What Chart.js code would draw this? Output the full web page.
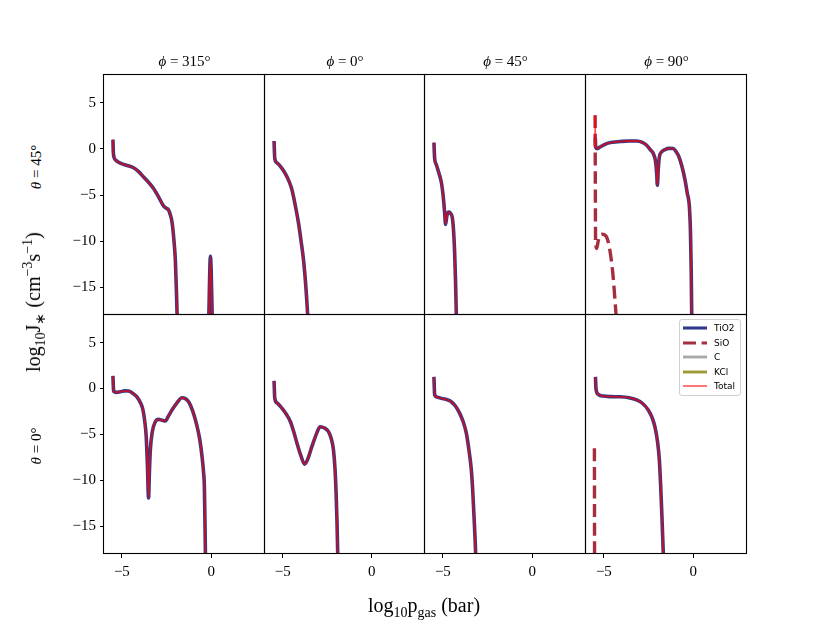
<!DOCTYPE html>
<html><head><meta charset="utf-8">
<script src="https://cdn.jsdelivr.net/npm/chart.js@4.4.0/dist/chart.umd.min.js"></script>
<style>
html,body{margin:0;padding:0;background:#fff}
body{width:830px;height:623px;overflow:hidden;position:relative;font-family:'Liberation Serif',serif;color:#000}
canvas{position:absolute}
.lbl{position:absolute;white-space:nowrap;transform:translate(-50%,-50%);line-height:1}
.rot{transform:translate(-50%,-50%) rotate(-90deg)}
sub,sup{font-size:70%;line-height:0}
#legend{position:absolute;left:679px;top:319px;width:62px;height:77px;border:1px solid #d0d0d0;border-radius:3px;background:rgba(255,255,255,0.85);font-family:'DejaVu Sans',sans-serif;font-size:9px;z-index:5;box-sizing:border-box}
#legend .row{position:absolute;left:0;height:14px;display:flex;align-items:center}
#legend svg{margin-left:3px;margin-right:7px}
</style></head>
<body>
<script>
// ---- axis / label data ----
const xTicks = [-5, 0];
const yTicks = [5, 0, -5, -10, -15];
const xRange = [-6, 3];
const yRange = [-18, 8];
const phiLabels = ['315', '0', '45', '90'];
const thetaLabels = ['45', '0'];
const seriesNames = ['TiO2', 'SiO', 'C', 'KCl', 'Total'];

// ---- series values: [log10 p_gas, log10 J*] ----
// theta = 45
const tio2_t45_p315 = [[-5.5,1.0],[-5.48,-0.3],[-5.45,-0.85],[-5.3,-1.3],[-5.09,-1.55],[-4.7,-1.8],[-4.35,-2.05],[-4.05,-2.5],[-3.79,-3.05],[-3.5,-3.65],[-3.23,-4.3],[-2.95,-5.2],[-2.7,-6.1],[-2.55,-6.4],[-2.4,-6.6],[-2.3,-7.1],[-2.2,-7.9],[-2.1,-9.7],[-2.01,-12.1],[-1.95,-15.5],[-1.9,-19],[-1.8,-30],[-0.3,-30],[-0.15,-19],[-0.05,-11.65],[0.06,-19],[0.2,-30]];
const tio2_t45_p0 = [[-5.49,0.85],[-5.47,-0.3],[-5.45,-1.06],[-5.3,-1.55],[-5.04,-2.14],[-4.85,-2.7],[-4.67,-3.41],[-4.52,-4.2],[-4.39,-5.22],[-4.25,-6.6],[-4.11,-8.1],[-3.97,-10.0],[-3.83,-12.1],[-3.7,-15.0],[-3.6,-18],[-3.55,-20]];
const tio2_t45_p45 = [[-5.5,0.68],[-5.48,-0.3],[-5.46,-1.06],[-5.37,-1.7],[-5.27,-2.33],[-5.09,-3.59],[-5.02,-4.5],[-4.96,-5.58],[-4.9,-7.0],[-4.85,-8.18],[-4.78,-7.3],[-4.72,-6.9],[-4.66,-6.85],[-4.57,-7.0],[-4.47,-7.5],[-4.4,-9.0],[-4.34,-11.4],[-4.29,-14.5],[-4.25,-18],[-4.22,-20]];
const tio2_t45_p90 = [[-5.48,1.2],[-5.46,0.3],[-5.42,0.05],[-5.35,0.05],[-5.22,0.2],[-4.85,0.57],[-4.5,0.72],[-4.1,0.79],[-3.6,0.85],[-3.17,0.85],[-2.85,0.7],[-2.61,0.39],[-2.4,-0.1],[-2.24,-0.51],[-2.12,-1.3],[-2.05,-2.6],[-2.01,-3.95],[-1.96,-2.2],[-1.9,-0.88],[-1.78,-0.35],[-1.58,-0.08],[-1.35,0.05],[-1.12,0.03],[-0.95,-0.35],[-0.84,-0.7],[-0.65,-1.8],[-0.46,-3.41],[-0.34,-4.8],[-0.22,-6.3],[-0.16,-9],[-0.12,-13],[-0.09,-18],[-0.07,-20]];
const sio_t45_p90 = [[-5.49,3.64],[-5.48,-3],[-5.465,-10.0],[-5.4,-10.8],[-5.33,-10.1],[-5.27,-9.6],[-5.1,-9.25],[-4.9,-9.4],[-4.7,-10.6],[-4.5,-13.5],[-4.33,-17.7],[-4.28,-19]];
const total_t45_p90 = [[-5.49,3.64],[-5.485,1.5],[-5.475,0.4],[-5.45,0.12],[-5.42,0.05],[-5.35,0.05],[-5.22,0.2],[-4.85,0.57],[-4.5,0.72],[-4.1,0.79],[-3.6,0.85],[-3.17,0.85],[-2.85,0.7],[-2.61,0.39],[-2.4,-0.1],[-2.24,-0.51],[-2.12,-1.3],[-2.05,-2.6],[-2.01,-3.95],[-1.96,-2.2],[-1.9,-0.88],[-1.78,-0.35],[-1.58,-0.08],[-1.35,0.05],[-1.12,0.03],[-0.95,-0.35],[-0.84,-0.7],[-0.65,-1.8],[-0.46,-3.41],[-0.34,-4.8],[-0.22,-6.3],[-0.16,-9],[-0.12,-13],[-0.09,-18],[-0.07,-20]];
// theta = 0
const tio2_t0_p315 = [[-5.5,1.38],[-5.48,0.3],[-5.46,-0.3],[-5.3,-0.42],[-5.09,-0.35],[-4.85,-0.25],[-4.63,-0.28],[-4.4,-0.5],[-4.16,-0.9],[-3.95,-1.6],[-3.82,-2.34],[-3.72,-3.6],[-3.64,-5.24],[-3.57,-8.5],[-3.51,-11.9],[-3.46,-9.0],[-3.41,-6.68],[-3.3,-4.7],[-3.13,-3.61],[-2.95,-3.35],[-2.75,-3.45],[-2.57,-3.53],[-2.4,-3.0],[-2.2,-2.34],[-1.9,-1.5],[-1.64,-1.0],[-1.45,-1.1],[-1.27,-1.44],[-1.05,-2.4],[-0.84,-3.78],[-0.65,-5.5],[-0.52,-7.4],[-0.44,-9],[-0.39,-10.66],[-0.36,-14],[-0.33,-18],[-0.31,-20]];
const tio2_t0_p0 = [[-5.49,0.84],[-5.47,-0.3],[-5.45,-1.07],[-5.3,-1.6],[-5.04,-2.16],[-4.8,-2.8],[-4.57,-3.61],[-4.4,-4.6],[-4.2,-5.95],[-4.0,-7.2],[-3.77,-8.23],[-3.6,-7.7],[-3.36,-6.3],[-3.1,-4.9],[-2.9,-4.15],[-2.65,-4.3],[-2.43,-4.68],[-2.28,-5.4],[-2.15,-6.66],[-2.06,-8.8],[-2.0,-11.4],[-1.95,-14.5],[-1.91,-17.9],[-1.89,-20]];
const tio2_t0_p45 = [[-5.5,1.27],[-5.48,0.1],[-5.46,-0.71],[-5.3,-0.95],[-5.09,-1.07],[-4.8,-1.2],[-4.53,-1.43],[-4.3,-1.9],[-4.06,-2.7],[-3.85,-3.7],[-3.69,-4.86],[-3.55,-6.6],[-3.41,-8.85],[-3.33,-11.2],[-3.26,-13.9],[-3.17,-17.9],[-3.14,-20]];
const tio2_t0_p90 = [[-5.47,1.27],[-5.45,0.2],[-5.41,-0.35],[-5.3,-0.65],[-5.04,-0.82],[-4.6,-0.88],[-4.1,-0.9],[-3.6,-1.0],[-3.17,-1.24],[-2.85,-1.6],[-2.52,-2.33],[-2.3,-3.2],[-2.15,-4.15],[-2.0,-5.8],[-1.9,-7.75],[-1.83,-10.4],[-1.77,-13.2],[-1.68,-17.9],[-1.65,-20]];
const sio_t0_p90 = [[-5.53,-6.5],[-5.52,-20]];
const empty = [];

// ---- layout ----
const colX = [104, 265, 425, 586, 747];
const rowY = [75, 315, 554];

const styles = {
  TiO2:  {color:'#2f3a8c', width:3.6, dash:[]},
  SiO:   {color:'#a62f3f', width:3.4, dash:[13,5.6]},
  C:     {color:'#aaaaaa', width:3.4, dash:[]},
  KCl:   {color:'#9c9a33', width:3.4, dash:[]},
  Total: {color:'rgba(255,0,0,0.7)', width:1.8, dash:[]}
};

const panels = [
  {r:0,c:0, s:{TiO2:tio2_t45_p315, SiO:empty, C:empty, KCl:empty, Total:tio2_t45_p315}},
  {r:0,c:1, s:{TiO2:tio2_t45_p0, SiO:empty, C:empty, KCl:empty, Total:tio2_t45_p0}},
  {r:0,c:2, s:{TiO2:tio2_t45_p45, SiO:empty, C:empty, KCl:empty, Total:tio2_t45_p45}},
  {r:0,c:3, s:{TiO2:tio2_t45_p90, SiO:sio_t45_p90, C:empty, KCl:empty, Total:total_t45_p90}},
  {r:1,c:0, s:{TiO2:tio2_t0_p315, SiO:empty, C:empty, KCl:empty, Total:tio2_t0_p315}},
  {r:1,c:1, s:{TiO2:tio2_t0_p0, SiO:empty, C:empty, KCl:empty, Total:tio2_t0_p0}},
  {r:1,c:2, s:{TiO2:tio2_t0_p45, SiO:empty, C:empty, KCl:empty, Total:tio2_t0_p45}},
  {r:1,c:3, s:{TiO2:tio2_t0_p90, SiO:sio_t0_p90, C:empty, KCl:empty, Total:tio2_t0_p90}}
];

const fmt = v => (v < 0 ? '\u2212' + Math.abs(v) : String(v));

const framePlugin = {
  id:'frame',
  afterDraw(chart){
    const a = chart.chartArea, ctx = chart.ctx;
    const L = Math.round(a.left)-0.5, R = Math.round(a.right)-0.5;
    const T = Math.round(a.top)-0.5, B = Math.round(a.bottom)-0.5;
    ctx.save();
    ctx.strokeStyle = '#000'; ctx.lineWidth = 1.1; ctx.setLineDash([]);
    ctx.strokeRect(L, T, R-L, B-T);
    ctx.restore();
  }
};

const tickFont = {family:"'Liberation Serif', serif", size:15};

function makePanel(p){
  const Lm = 60, Bm = 40, Tm = 16, Rm = 16;
  const x0 = colX[p.c], x1 = colX[p.c+1], y0 = rowY[p.r], y1 = rowY[p.r+1];
  const W = x1 - x0 + Lm + Rm, H = y1 - y0 + Tm + Bm;
  const cv = document.createElement('canvas');
  cv.width = W; cv.height = H;
  cv.style.width = W + 'px'; cv.style.height = H + 'px';
  cv.style.left = (x0 - Lm) + 'px'; cv.style.top = (y0 - Tm) + 'px';
  document.body.appendChild(cv);
  const showX = p.r === 1, showY = p.c === 0;
  const order = {TiO2:5, SiO:4, C:3, KCl:2, Total:1};
  const datasets = seriesNames.map(n => ({
    label:n,
    data:p.s[n].map(d => ({x:d[0], y:d[1]})),
    borderColor:styles[n].color,
    borderWidth:styles[n].width,
    borderDash:styles[n].dash,
    borderCapStyle:'butt',
    borderJoinStyle:'round',
    pointRadius:0,
    fill:false,
    cubicInterpolationMode:'monotone',
    clip:0,
    order:order[n]
  }));
  new Chart(cv, {
    type:'line',
    data:{datasets},
    options:{
      responsive:false, animation:false, devicePixelRatio:1,
      events:[],
      layout:{padding:{left:0, top:Tm, right:Rm, bottom:0}},
      plugins:{legend:{display:false}, tooltip:{enabled:false}, title:{display:false}},
      scales:{
        x:{type:'linear', min:xRange[0], max:xRange[1], position:'bottom',
           afterFit:s => { s.height = Bm; },
           afterBuildTicks:s => { s.ticks = xTicks.map(v => ({value:v})); },
           border:{display:false},
           grid:{display:showX, drawOnChartArea:false, drawTicks:true, tickLength:4, color:'#000', lineWidth:1},
           ticks:{display:showX, font:tickFont, color:'#000', padding:5, maxRotation:0, autoSkip:false, callback:fmt}},
        y:{type:'linear', min:yRange[0], max:yRange[1], position:'left',
           afterFit:s => { s.width = Lm; },
           afterBuildTicks:s => { s.ticks = yTicks.map(v => ({value:v})); },
           border:{display:false},
           grid:{display:showY, drawOnChartArea:false, drawTicks:true, tickLength:4, color:'#000', lineWidth:1},
           ticks:{display:showY, font:tickFont, color:'#000', padding:4, autoSkip:false, callback:fmt}}
      }
    },
    plugins:[framePlugin]
  });
}
panels.forEach(makePanel);

function addLabel(html, x, y, size, rot){
  const d = document.createElement('div');
  d.className = 'lbl' + (rot ? ' rot' : '');
  d.style.left = x + 'px'; d.style.top = y + 'px';
  d.style.fontSize = size + 'px';
  d.innerHTML = html;
  document.body.appendChild(d);
}
phiLabels.forEach((v, i) => addLabel('<i>\u03D5</i> = ' + v + '\u00B0', (colX[i] + colX[i+1]) / 2, 61, 15, false));
thetaLabels.forEach((v, i) => addLabel('<i>\u03B8</i> = ' + v + '\u00B0', 36, i === 0 ? 167 : 446, 15, true));
addLabel('log<sub>10</sub>J<sub>\u2217</sub>&nbsp;(cm<sup>\u22123</sup>s<sup>\u22121</sup>)', 33, 302, 20, true);
addLabel('log<sub>10</sub>p<sub>gas</sub>&nbsp;(bar)', 424, 605, 20, false);

// legend built from series names and styles
const lg = document.createElement('div'); lg.id = 'legend';
seriesNames.forEach((n, i) => {
  const st = styles[n];
  const row = document.createElement('div'); row.className = 'row';
  row.style.top = (1 + i * 14.5) + 'px';
  const dash = st.dash.length ? ` stroke-dasharray="${st.dash.join(' ')}"` : '';
  row.innerHTML = `<svg width="24" height="8"><line x1="0" y1="4" x2="24" y2="4" stroke="${st.color}" stroke-width="${st.width * 0.85}"${dash}/></svg><span>${n}</span>`;
  lg.appendChild(row);
});
document.body.appendChild(lg);
</script>
</body></html>
